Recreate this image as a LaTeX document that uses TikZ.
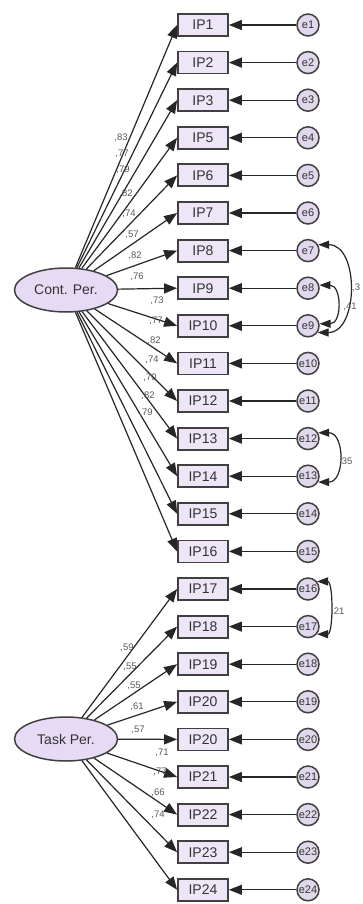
\documentclass[tikz,border=0pt]{standalone}
\usepackage{fontspec}
\setmainfont{Liberation Sans}
\usetikzlibrary{arrows.meta,shapes.geometric}
\definecolor{boxfill}{HTML}{EEE6F6}
\definecolor{latfill}{HTML}{E6DAF4}
\definecolor{errfill}{HTML}{E2D8EE}
\begin{document}
\begin{tikzpicture}[x=1pt,y=-1pt,
  obs/.style={draw=black!75,line width=1.8pt,fill=boxfill,minimum width=50pt,minimum height=22pt,inner sep=0pt,font=\fontsize{14}{14}\selectfont,text=black!80},
  lat/.style={ellipse,draw=black!75,line width=1.5pt,fill=latfill,minimum width=103pt,minimum height=44pt,inner sep=0pt,font=\fontsize{14}{14}\selectfont,text=black!80},
  err/.style={circle,draw=black!75,line width=1.5pt,fill=errfill,minimum size=22pt,inner sep=0pt,font=\fontsize{11}{11}\selectfont,text=black!80},
  ld/.style={draw=black!85,line width=1.2pt,-{Triangle[length=13pt,width=10pt]}},
  cov/.style={draw=black!85,line width=1.2pt,{Triangle[length=11pt,width=8pt]}-{Triangle[length=11pt,width=8pt]}},
  lab/.style={font=\fontsize{9.5}{9.5}\selectfont,text=black!65,inner sep=0pt}
]
\useasboundingbox (0,0) rectangle (362,904);
\fill[white] (0,0) rectangle (362,904);
\foreach \t [count=\i] in {IP1,IP2,IP3,IP5,IP6,IP7,IP8,IP9,IP10,IP11,IP12,IP13,IP14,IP15,IP16,IP17,IP18,IP19,IP20,IP20,IP21,IP22,IP23,IP24} {
  \node[obs] (b\i) at (203,{25+37.6*(\i-1)}) {\t};
  \node[err] (e\i) at (308,{25+37.6*(\i-1)}) {e\i};
  \draw[ld] (e\i) -- (b\i);
}
\node[lat] (cp) at (66,290) {Cont. Per.};
\node[lat] (tp) at (66,739) {Task Per.};
\foreach \i in {1,...,15} \draw[ld] (cp) -- (b\i.west);
\foreach \i in {16,...,24} \draw[ld] (tp) -- (b\i.west);
% loadings Cont. Per.
\foreach \v/\x/\y in {83/121/138, 77/122/154, 79/123/170, 82/126/194, 74/129/214, 57/132/235, 82/135/256, 76/137/277, 73/157/301, 77/156/321, 82/154/341, 74/152/360, 70/150/378, 82/148/396, 79/146/413}
  \node[lab] at (\x,\y) {,\v};
% loadings Task Per.
\foreach \v/\x/\y in {59/127/648, 55/130/667, 55/134/686, 61/137/707, 57/138/730, 71/162/753, 77/160/772, 66/158/793, 74/158/815}
  \node[lab] at (\x,\y) {,\v};
% covariances
\draw[cov] (e7.30) to[out=0,in=0,looseness=1.2] (e9.-35);
\draw[cov] (e8.15) to[out=0,in=0,looseness=1.5] (e9.10);
\draw[cov] (e12.30) to[out=0,in=0,looseness=1.4] (e13.-30);
\draw[cov] (e16.40) to[out=0,in=0,looseness=0.8] (e17.-40);
\node[lab,anchor=west] at (352,288) {,3};
\node[lab] at (350,307) {,41};
\node[lab,anchor=west] at (339,462) {,35};
\node[lab,anchor=west] at (331,612) {,21};
\end{tikzpicture}
\end{document}
